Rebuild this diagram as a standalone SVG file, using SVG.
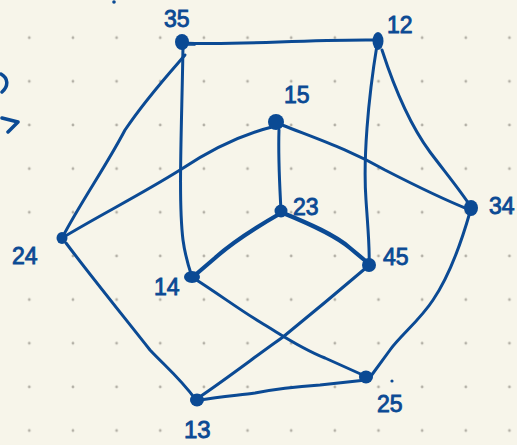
<svg xmlns="http://www.w3.org/2000/svg" width="517" height="445" viewBox="0 0 517 445">
<defs>
<pattern id="dots" x="29.3" y="37.7" width="43.65" height="43.65" patternUnits="userSpaceOnUse">
<circle cx="0" cy="0" r="1.4" fill="#b3b0a6"/>
<circle cx="43.65" cy="0" r="1.4" fill="#b3b0a6"/>
<circle cx="0" cy="43.65" r="1.4" fill="#b3b0a6"/>
<circle cx="43.65" cy="43.65" r="1.4" fill="#b3b0a6"/>
</pattern>
<style>
.e{fill:none;stroke:#0b4a94;stroke-width:3;stroke-linecap:round;stroke-linejoin:round}
.t{fill:none;stroke:#0b4a94;stroke-width:4.2;stroke-linecap:round}
.n{fill:#0b4a94}
.l{font-family:"Liberation Sans",Arial,sans-serif;font-size:23px;fill:#0b4a94;stroke:#0b4a94;stroke-width:0.9}
</style>
</defs>
<rect width="517" height="445" fill="#f7f5ea"/>
<rect width="517" height="445" fill="url(#dots)"/>
<g id="marks">
<path class="e" style="stroke-width:3.5" d="M1,74 C8,78 9,86 2,92"/>
<path class="e" style="stroke-width:3.5" d="M2,118 L18,122 L8,132"/>
<circle cx="114" cy="2" r="1.8" class="n"/>
<circle cx="392" cy="381" r="1.6" class="n"/>
</g>
<g id="connectors">
<path class="e" d="M182,43 C240,46 300,39 378,40"/>
<path class="e" d="M185,55 C165,78 145,100 125,130 C105,168 82,200 62,238"/>
<path class="e" d="M183,45 C182,120 178,200 183,240 C185,255 188,265 192,277"/>
<path class="e" d="M382,50 C395,90 410,125 430,152 C445,172 460,190 471,207"/>
<path class="e" d="M377,45 C368,100 363,160 366,200 C368,230 370,250 369,264"/>
<path class="e" d="M272,127 C240,135 210,150 180,170 C140,195 100,215 62,238"/>
<path class="e" d="M282,125 C320,140 350,150 385,170 C420,188 440,198 470,210"/>
<path class="e" d="M279,130 C278,160 280,190 281,211"/>
<path class="t" d="M281,213 C260,225 235,240 215,258 L194,276"/>
<path class="t" d="M283,213 C310,224 335,235 350,248 L368,263"/>
<path class="e" d="M66,243 C90,275 120,312 150,350 C165,366 180,378 196,400"/>
<path class="e" d="M195,279 C220,295 240,310 260,322 C285,337 300,348 325,358 L365,376"/>
<path class="e" d="M367,267 C340,290 310,315 283,337 C260,353 225,380 198,398"/>
<path class="e" d="M470,212 C462,240 450,275 433,300 C420,320 400,336 390,350 L371,376"/>
<path class="e" d="M200,400 C220,397 240,395 255,393 C275,389 290,387 320,385 L366,380"/>
</g>
<g id="n35"><ellipse class="n" cx="182" cy="42" rx="7" ry="8"/><path class="e" style="stroke-width:1.5" d="M187,45 L195,45"/><text class="l" x="164" y="27">35</text></g>
<g id="n12"><ellipse class="n" cx="378" cy="41" rx="5.5" ry="9"/><text class="l" x="387" y="33">12</text></g>
<g id="n15"><ellipse class="n" cx="276" cy="122" rx="8" ry="8"/><text class="l" x="284" y="103">15</text></g>
<g id="n34"><ellipse class="n" cx="471" cy="208" rx="7" ry="8"/><text class="l" x="489" y="214">34</text></g>
<g id="n24"><ellipse class="n" cx="62" cy="238" rx="5.5" ry="6"/><text class="l" x="12" y="264">24</text></g>
<g id="n23"><circle class="n" cx="281" cy="211" r="6.5"/><text class="l" x="293" y="215">23</text></g>
<g id="n14"><ellipse class="n" cx="192" cy="277" rx="8" ry="6"/><text class="l" x="154" y="295">14</text></g>
<g id="n45"><circle class="n" cx="369" cy="265" r="7"/><text class="l" x="383" y="265">45</text></g>
<g id="n13"><ellipse class="n" cx="197" cy="400" rx="7" ry="6.5"/><text class="l" x="184" y="438" style="font-size:24px">13</text></g>
<g id="n25"><ellipse class="n" cx="366" cy="377" rx="7" ry="6.5"/><text class="l" x="377" y="412">25</text></g>
</svg>
